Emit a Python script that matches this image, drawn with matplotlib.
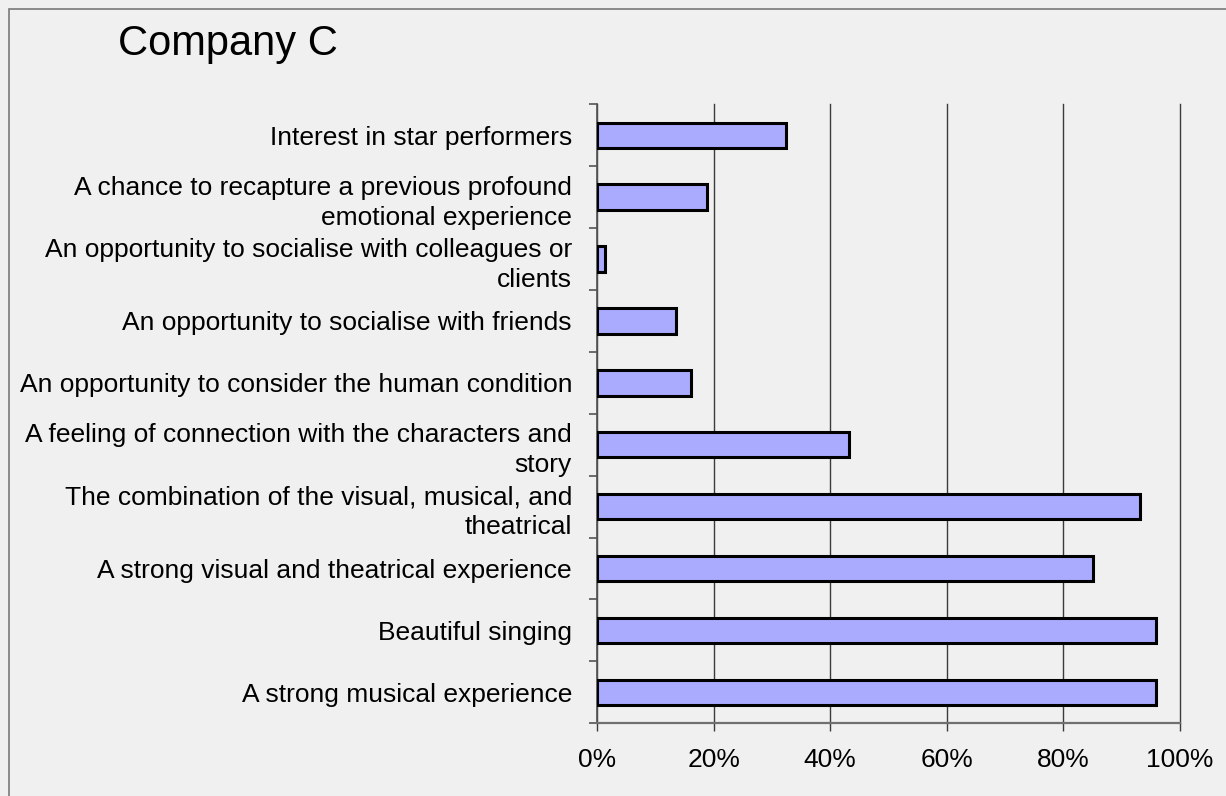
import matplotlib
matplotlib.use("Agg")
import matplotlib.pyplot as plt
from matplotlib.patches import Rectangle
from matplotlib.ticker import FixedLocator, PercentFormatter

# data, bottom to top
labels = [
    "A strong musical experience",
    "Beautiful singing",
    "A strong visual and theatrical experience",
    "The combination of the visual, musical, and\ntheatrical",
    "A feeling of connection with the characters and\nstory",
    "An opportunity to consider the human condition",
    "An opportunity to socialise with friends",
    "An opportunity to socialise with colleagues or\nclients",
    "A chance to recapture a previous profound\nemotional experience",
    "Interest in star performers",
]
values = [0.959, 0.959, 0.851, 0.932, 0.432, 0.162, 0.135, 0.014, 0.189, 0.324]
x_ticks = [0, 0.2, 0.4, 0.6, 0.8, 1.0]

plt.rcParams["font.family"] = ["Liberation Sans", "DejaVu Sans"]
bg = "#f0f0f0"

fig = plt.figure(figsize=(12.26, 7.96), dpi=100, facecolor=bg)
ax = fig.add_axes([597 / 1226, 1 - 723.3 / 796, 583 / 1226, (723.3 - 104.3) / 796])
ax.set_facecolor(bg)

ypos = list(range(len(labels)))
ax.set_axisbelow(True)
ax.xaxis.grid(True, color="#3a3a3a", linewidth=1.0)
ax.barh(ypos, values, height=0.41, color="#aaaaff", edgecolor="black", linewidth=2.2, zorder=3)

ax.set_xlim(0, 1)
ax.set_ylim(-0.5, len(labels) - 0.5)
ax.set_xticks(x_ticks)
ax.xaxis.set_major_formatter(PercentFormatter(1.0, decimals=0))
ax.set_yticks(ypos)
ax.set_yticklabels(labels)
ax.yaxis.set_minor_locator(FixedLocator([i - 0.5 for i in range(len(labels) + 1)]))

ax.tick_params(axis="y", which="major", length=0, pad=18, labelsize=19)
ax.tick_params(axis="y", which="minor", length=6, width=1.2, color="#555555", direction="out")
ax.tick_params(axis="x", length=6, width=1.0, color="#3a3a3a", pad=12, labelsize=19)
for lbl in ax.get_yticklabels():
    lbl.set_horizontalalignment("right")
    lbl.set_multialignment("right")
    lbl.set_linespacing(1.32)
for gl in ax.get_xgridlines():
    gl.set_clip_on(False)

for s in ["top", "right"]:
    ax.spines[s].set_visible(False)
ax.spines["left"].set_color("#555555")
ax.spines["left"].set_linewidth(1.2)
ax.spines["bottom"].set_color("#707070")
ax.spines["bottom"].set_linewidth(1.6)

fig.text(118 / 1226, 1 - 55 / 796, "Company C", fontsize=30, va="baseline", ha="left")

# outer frame (cut off at right and bottom)
fig.patches.append(Rectangle((8.5 / 1226, -0.1), 1.2, 1 - 9 / 796 + 0.1, transform=fig.transFigure,
                             fill=False, edgecolor="#7a7a7a", linewidth=1.2))

fig.savefig("out.png", dpi=100, facecolor=bg)
